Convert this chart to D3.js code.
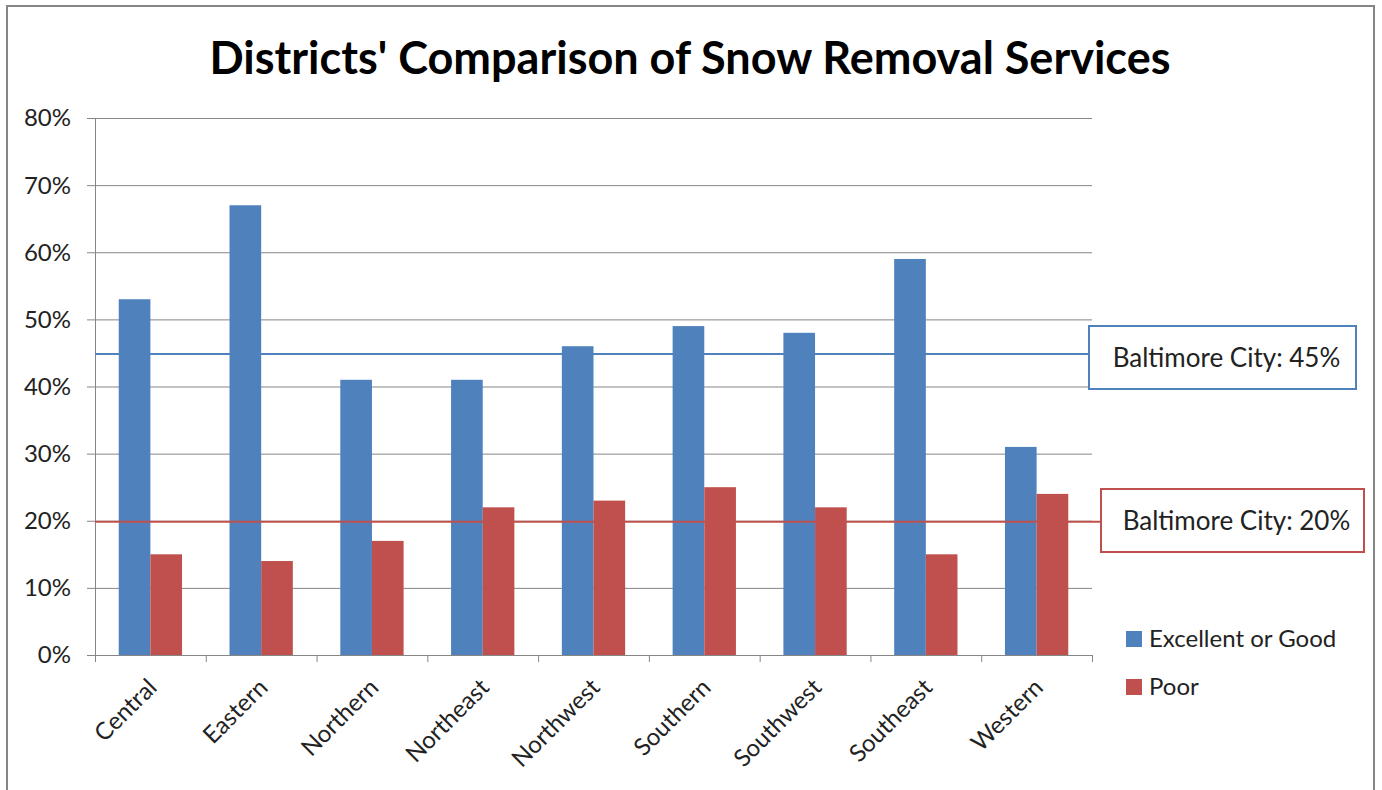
<!DOCTYPE html>
<html>
<head>
<meta charset="utf-8">
<script src="https://cdn.jsdelivr.net/npm/d3@7"></script>
<style>
  body { margin: 0; background: #fff; }
  svg text { font-family: Lato, "Open Sans", sans-serif; fill: #000; }
</style>
</head>
<body>
<svg id="chart" width="1382" height="790"></svg>
<script>
// Data
const districts = ["Central", "Eastern", "Northern", "Northeast", "Northwest", "Southern", "Southwest", "Southeast", "Western"];
const excellentGood = [53, 67, 41, 41, 46, 49, 48, 59, 31];
const poor = [15, 14, 17, 22, 23, 25, 22, 15, 24];
const seriesNames = ["Excellent or Good", "Poor"];
const cityAverages = [45, 20];
const yTicks = [0, 10, 20, 30, 40, 50, 60, 70, 80];

const colors = ["#4F81BD", "#C0504D"];
const svg = d3.select("#chart");

// chart frame
svg.append("rect")
    .attr("x", 7).attr("y", 6).attr("width", 1367).attr("height", 800)
    .attr("fill", "#fff").attr("stroke", "#868686").attr("stroke-width", 2);

const plot = { left: 95, right: 1092, top: 118, bottom: 655 };

const x = d3.scaleBand().domain(districts).range([plot.left, plot.right]).paddingInner(0).paddingOuter(0);
const inner = d3.scaleBand().domain(seriesNames).range([0, x.bandwidth()]).paddingInner(0).paddingOuter(0.75);
const y = d3.scaleLinear().domain([0, 80]).range([plot.bottom, plot.top]);

// title
svg.append("text")
    .attr("x", 690).attr("y", 74)
    .attr("text-anchor", "middle")
    .style("font-size", "45px").style("font-weight", "bold")
    .text("Districts' Comparison of Snow Removal Services");

// gridlines
svg.append("g").selectAll("line").data(yTicks).join("line")
    .attr("x1", plot.left - 8).attr("x2", plot.right)
    .attr("y1", d => y(d) + 0.5).attr("y2", d => y(d) + 0.5)
    .attr("stroke", "#868686").attr("stroke-width", 1);

// y labels
svg.append("g").selectAll("text").data(yTicks).join("text")
    .attr("x", plot.left - 24).attr("y", d => y(d))
    .attr("dy", "0.35em").attr("text-anchor", "end")
    .style("font-size", "24px").style("fill", "#222")
    .text(d => d + "%");

// bars
const groups = svg.append("g").selectAll("g").data(districts).join("g")
    .attr("transform", d => `translate(${x(d)},0)`);
groups.selectAll("rect")
    .data((d, i) => [excellentGood[i], poor[i]].map((v, s) => ({ v, s })))
    .join("rect")
    .attr("x", d => inner(seriesNames[d.s]))
    .attr("width", inner.bandwidth())
    .attr("y", d => y(d.v))
    .attr("height", d => y(0) - y(d.v))
    .attr("fill", d => colors[d.s]);

// axes lines
svg.append("line")
    .attr("x1", plot.left + 0.5).attr("x2", plot.left + 0.5)
    .attr("y1", plot.top).attr("y2", plot.bottom + 7)
    .attr("stroke", "#868686");
svg.append("line")
    .attr("x1", plot.left).attr("x2", plot.right)
    .attr("y1", plot.bottom + 0.5).attr("y2", plot.bottom + 0.5)
    .attr("stroke", "#868686");
svg.append("g").selectAll("line").data(districts.concat(["end"])).join("line")
    .attr("x1", (d, i) => plot.left + i * x.step() + 0.5)
    .attr("x2", (d, i) => plot.left + i * x.step() + 0.5)
    .attr("y1", plot.bottom).attr("y2", plot.bottom + 7)
    .attr("stroke", "#868686");

// x labels
svg.append("g").selectAll("text").data(districts).join("text")
    .attr("transform", d => `translate(${x(d) + x.bandwidth() / 2 + 2},${plot.bottom + 28}) rotate(-45)`)
    .attr("text-anchor", "end")
    .attr("dy", "0.35em")
    .style("font-size", "24px").style("fill", "#222")
    .text(d => d);

// city average lines with callouts
const boxes = [
    { x: 1089, y: 326, w: 267, h: 63 },
    { x: 1101, y: 489, w: 263, h: 63 }
];
cityAverages.forEach((v, i) => {
    svg.append("line")
        .attr("x1", plot.left).attr("x2", boxes[i].x)
        .attr("y1", y(v) + 1).attr("y2", y(v) + 1)
        .attr("stroke", colors[i]).attr("stroke-width", 2);
    svg.append("rect")
        .attr("x", boxes[i].x).attr("y", boxes[i].y)
        .attr("width", boxes[i].w).attr("height", boxes[i].h)
        .attr("fill", "#fff").attr("stroke", colors[i]).attr("stroke-width", 2);
    svg.append("text")
        .attr("x", boxes[i].x + boxes[i].w / 2 + 4).attr("y", boxes[i].y + boxes[i].h / 2)
        .attr("dy", "0.35em").attr("text-anchor", "middle")
        .style("font-size", "26px").style("fill", "#222")
        .text(`Baltimore City: ${v}%`);
});

// legend
const legend = svg.append("g").selectAll("g").data(seriesNames).join("g")
    .attr("transform", (d, i) => `translate(1126,${631 + i * 48})`);
legend.append("rect").attr("width", 16).attr("height", 16).attr("fill", (d, i) => colors[i]);
legend.append("text").attr("x", 23).attr("y", 8).attr("dy", "0.35em")
    .style("font-size", "24px").style("fill", "#222")
    .text(d => d);
</script>
</body>
</html>
